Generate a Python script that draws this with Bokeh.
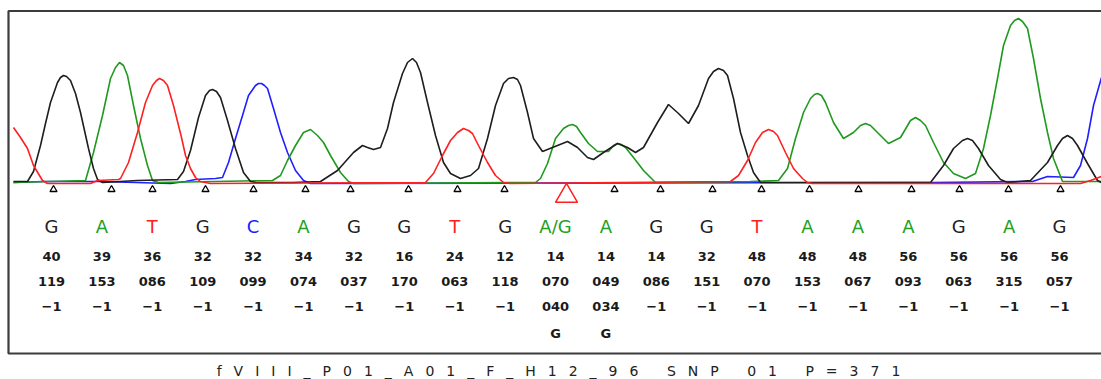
from bokeh.plotting import figure
from bokeh.models import Range1d, Div, ColumnDataSource
from bokeh.layouts import column
from bokeh.embed import file_html
from bokeh.resources import INLINE
from bokeh.core.properties import value

# ---- chromatogram traces (scan position, signal intensity) ----
scan_G = [13, 27, 33, 40, 45, 50, 57, 60, 63, 66, 70, 75, 80, 88, 93, 97, 102, 137, 177, 183, 190,
          198, 205, 209, 212, 216, 220, 227, 235, 243, 250, 256, 292, 320, 337, 353, 362, 367, 373,
          380, 387, 393, 402, 407, 412, 416, 420, 427, 435, 443, 450, 460, 470, 478, 487, 495, 503,
          508, 513, 517, 520, 527, 533, 542, 557, 567, 577, 587, 593, 603, 617, 627, 635, 643, 657,
          668, 678, 688, 698, 708, 713, 718, 723, 727, 733, 740, 747, 753, 760, 930, 943, 953, 962,
          967, 972, 978, 988, 1000, 1007, 1030, 1047, 1057, 1062, 1067, 1072, 1077, 1087, 1097, 1101]
sig_G = [2, 2, 12, 38, 60, 81, 101, 106, 108, 107, 103, 90, 71, 35, 15, 4, 1, 3, 4, 12, 33,
         66, 88, 93, 94, 92, 86, 63, 35, 11, 2, 1, 1, 2, 13, 31, 38, 36, 34,
         36, 55, 81, 110, 121, 125, 121, 111, 81, 48, 21, 10, 5, 8, 15, 45, 78, 100,
         105, 106, 104, 98, 71, 45, 32, 38, 42, 36, 26, 24, 31, 40, 36, 31, 36, 61,
         79, 70, 60, 78, 105, 112, 115, 113, 108, 85, 51, 28, 11, 1, 1, 18, 35, 43,
         45, 43, 35, 18, 4, 1, 3, 21, 38, 45, 48, 45, 38, 20, 3, 1]

scan_A = [13, 85, 93, 102, 110, 115, 119, 123, 127, 133, 140, 147, 152, 158, 272, 280, 287, 295,
          303, 310, 317, 323, 330, 340, 348, 353, 535, 540, 547, 555, 563, 568, 572, 576, 580, 588,
          597, 608, 613, 617, 621, 625, 633, 643, 655, 750, 778, 787, 795, 803, 810, 814, 817, 821,
          825, 833, 843, 853, 860, 865, 870, 875, 888, 900, 910, 915, 920, 925, 933, 943, 953, 965,
          975, 983, 990, 997, 1003, 1010, 1014, 1018, 1022, 1027, 1033, 1040, 1047, 1053, 1062, 1101]
sig_A = [1, 3, 31, 68, 105, 116, 121, 118, 108, 78, 45, 18, 3, 1, 3, 8, 23, 38,
         51, 54, 48, 41, 28, 11, 2, 0, 1, 5, 20, 45, 55, 58, 59, 57, 51, 40,
         32, 32, 38, 40, 39, 36, 26, 13, 1, 2, 3, 15, 45, 71, 85, 89, 90, 88,
         81, 61, 45, 51, 58, 60, 58, 53, 40, 46, 63, 66, 63, 58, 41, 21, 10, 5,
         10, 35, 68, 105, 138, 158, 163, 165, 162, 155, 125, 85, 51, 25, 2, 2]

scan_T = [13, 20, 27, 33, 42, 47, 90, 97, 118, 120, 128, 137, 145, 152, 156, 159, 163, 167, 173,
          181, 185, 190, 195, 200, 210, 425, 433, 442, 450, 457, 463, 468, 472, 478, 487, 495, 503,
          510, 730, 738, 747, 755, 762, 768, 773, 777, 785, 793, 802, 807, 812, 1080, 1090, 1101]
sig_T = [56, 46, 35, 18, 3, 0, 0, 3, 4, 5, 21, 51, 81, 98, 103, 105, 103, 98, 78,
         46, 28, 15, 6, 2, 0, 1, 10, 28, 43, 51, 55, 53, 50, 38, 21, 8, 1,
         0, 2, 8, 23, 41, 51, 54, 52, 48, 31, 15, 5, 1, 0, 0, 3, 7]

scan_C = [13, 43, 100, 170, 185, 195, 215, 222, 228, 235, 242, 248, 255, 258, 261, 264, 267, 273,
          280, 287, 295, 303, 310, 913, 932, 1032, 1047, 1073, 1080, 1087, 1093, 1101]
sig_C = [1, 2, 2, 0, 2, 4, 5, 6, 21, 45, 68, 88, 98, 100, 100, 98, 95, 75,
         51, 31, 13, 3, 0, 1, 1, 2, 7, 6, 18, 45, 78, 106]

# ---- base calls ----
bases = ["G", "A", "T", "G", "C", "A", "G", "G", "T", "G", "A/G", "A", "G", "G", "T", "A", "A",
         "A", "G", "A", "G"]
call_scan = [53, 111, 152, 205, 253, 305, 350, 408, 457, 504, 566, 614, 660, 712, 761, 809, 858,
             911, 959, 1008, 1060]
quality = ["40", "39", "36", "32", "32", "34", "32", "16", "24", "12", "14", "14", "14", "32", "48",
           "48", "48", "56", "56", "56", "56"]
peak_height = ["119", "153", "086", "109", "099", "074", "037", "170", "063", "118", "070", "049",
               "086", "151", "070", "153", "067", "093", "063", "315", "057"]
second_height = ["−1"] * 10 + ["040", "034"] + ["−1"] * 9
second_base = [""] * 10 + ["G", "G"] + [""] * 9
snp_index = 10
title_text = "fVIII_P01_A01_F_H12_96 SNP 01 P=371"

# ---- styles / layout ----
trace_colors = {"G": "#1e1e1e", "A": "#1f9a1f", "T": "#ff2020", "C": "#2020ff"}
letter_colors = {"G": "#222222", "A": "#22a022", "T": "#ff2020", "C": "#2020ff", "A/G": "#22a022"}
col0, col_step = 51, 50.4
col_x = [col0 + col_step * i for i in range(len(bases))]
FONT = value("DejaVu Sans")

p = figure(width=1101, height=362, x_range=Range1d(0, 1101), y_range=Range1d(-179, 183),
           output_backend="svg", toolbar_location=None, min_border=0,
           x_axis_location=None, y_axis_location=None)
p.grid.visible = False
p.outline_line_color = None
p.background_fill_color = "white"
p.border_fill_color = "white"

# frame box (open on the right, as in the source image)
p.line([1101, 8, 8, 1101], [172.5, 172.5, -170, -170], line_width=2.2, color="#3c3c3c")

# traces
for key, sx, sy in [("C", scan_C, sig_C), ("A", scan_A, sig_A), ("G", scan_G, sig_G),
                    ("T", scan_T, sig_T)]:
    p.line(sx, sy, color=trace_colors[key], line_width=1.6)

# call markers
mark_x = [x for i, x in enumerate(call_scan) if i != snp_index]
p.scatter(mark_x, [-6] * len(mark_x), marker="triangle", size=7, fill_color="white",
          line_color="black", line_width=1.3)
p.scatter([call_scan[snp_index]], [-12.5], marker="triangle", size=22, fill_color=None,
          line_color="#ff2020", line_width=1.5)

src = ColumnDataSource(dict(x=col_x, base=bases, bc=[letter_colors[b] for b in bases],
                            q=quality, h=peak_height, h2=second_height, b2=second_base))
p.text(x="x", y=-43, text="base", source=src, text_color="bc", text_font=FONT,
       text_font_size="18px", text_align="center", text_baseline="middle")
for field, yy in [("q", -73), ("h", -98), ("h2", -123), ("b2", -150)]:
    p.text(x="x", y=yy, text=field, source=src, text_color="#1a1a1a", text_font=FONT,
           text_font_size="13px", text_font_style="bold", text_align="center",
           text_baseline="middle")

div = Div(text=('<div style="font-family:\'DejaVu Sans\'; font-size:14px; letter-spacing:12px; '
                'text-align:center; box-sizing:border-box; width:1101px; padding-left:28px; '
                'color:#222; white-space:nowrap; line-height:17px; position:relative; top:1px;">'
                + title_text + '</div>'),
          width=1101, height=17, margin=(0, 0, 0, 0))

layout = column(p, div, spacing=0)
open("out.html", "w").write(file_html(layout, INLINE))
